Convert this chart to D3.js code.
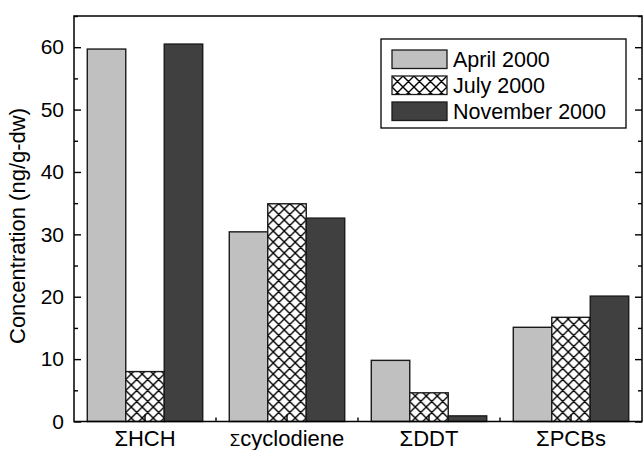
<!DOCTYPE html>
<html>
<head>
<meta charset="utf-8">
<script src="https://cdn.jsdelivr.net/npm/d3@7"></script>
<style>
  html, body { margin: 0; padding: 0; background: #fff; }
  svg { display: block; font-family: "Liberation Sans", Arial, sans-serif; }
</style>
</head>
<body>
<svg id="chart" width="644" height="450"></svg>
<script>
// Organochlorine concentrations by compound group and sampling date
const categories = ["ΣHCH", "Σcyclodiene", "ΣDDT", "ΣPCBs"];
const seriesNames = ["April 2000", "July 2000", "November 2000"];
const april2000 = [59.7, 30.4, 9.8, 15.1];
const july2000 = [8.0, 34.9, 4.6, 16.7];
const november2000 = [60.5, 32.6, 0.9, 20.1];
const yTicks = [0, 10, 20, 30, 40, 50, 60];
const yLabel = "Concentration (ng/g-dw)";

const seriesValues = [april2000, july2000, november2000];

const svg = d3.select("#chart");
const margin = { left: 74, right: 2, top: 16, bottom: 28.5 };
const W = 644, H = 450;
const x0 = margin.left, x1 = W - margin.right;
const yTop = margin.top, yBot = H - margin.bottom;

const x = d3.scaleBand().domain(categories).range([x0, x1]).paddingInner(0.187).paddingOuter(0.0935);
const xs = d3.scaleBand().domain(seriesNames).range([0, x.bandwidth()]);
const y = d3.scaleLinear().domain([0, 65]).range([yBot, yTop]);

// Cross-hatch pattern for the July series
const defs = svg.append("defs");
const pat = defs.append("pattern")
  .attr("id", "xhatch")
  .attr("patternUnits", "userSpaceOnUse")
  .attr("width", 11).attr("height", 11)
  .attr("x", 0).attr("y", 0);
pat.append("rect").attr("width", 11).attr("height", 11).attr("fill", "#fff");
pat.append("path").attr("d", "M0,0L11,11M11,0L0,11M-1,10L1,12M10,-1L12,1M-1,1L1,-1M10,12L12,10")
  .attr("stroke", "#000").attr("stroke-width", 1.4).attr("fill", "none");

const fills = ["#c0c0c0", "url(#xhatch)", "#404040"];

// Bars
const groups = svg.append("g").selectAll("g")
  .data(categories)
  .join("g")
  .attr("transform", d => `translate(${x(d)},0)`);

groups.selectAll("rect")
  .data((c, i) => seriesNames.map((s, k) => ({ s, k, v: seriesValues[k][i] })))
  .join("rect")
  .attr("x", d => xs(d.s))
  .attr("width", xs.bandwidth())
  .attr("y", d => y(d.v))
  .attr("height", d => y(0) - y(d.v))
  .attr("fill", d => fills[d.k])
  .attr("stroke", "#1a1a1a")
  .attr("stroke-width", 1.4);

// Frame
svg.append("rect")
  .attr("x", x0).attr("y", yTop)
  .attr("width", x1 - x0).attr("height", yBot - yTop)
  .attr("fill", "none").attr("stroke", "#000").attr("stroke-width", 1.5);

// Y axes (ticks inward on both sides)
const yMinor = d3.range(5, 66, 10);
const leftAxis = svg.append("g").attr("transform", `translate(${x0},0)`)
  .call(d3.axisLeft(y).tickValues(yTicks).tickSize(-7).tickPadding(10).tickFormat(d3.format("d")));
leftAxis.select(".domain").remove();
leftAxis.selectAll("line").attr("stroke", "#000").attr("stroke-width", 1.4);
leftAxis.selectAll("text").attr("font-size", 21).attr("fill", "#000")
  .attr("font-family", "Liberation Sans, Arial, sans-serif");

const leftMinor = svg.append("g").attr("transform", `translate(${x0},0)`)
  .call(d3.axisLeft(y).tickValues(yMinor).tickSize(-4).tickFormat(""));
leftMinor.select(".domain").remove();
leftMinor.selectAll("line").attr("stroke", "#000").attr("stroke-width", 1.4);

const rightAxis = svg.append("g").attr("transform", `translate(${x1},0)`)
  .call(d3.axisRight(y).tickValues(yTicks).tickSize(-7).tickFormat(""));
rightAxis.select(".domain").remove();
rightAxis.selectAll("line").attr("stroke", "#000").attr("stroke-width", 1.4);
const rightMinor = svg.append("g").attr("transform", `translate(${x1},0)`)
  .call(d3.axisRight(y).tickValues(yMinor).tickSize(-4).tickFormat(""));
rightMinor.select(".domain").remove();
rightMinor.selectAll("line").attr("stroke", "#000").attr("stroke-width", 1.4);

// X axis: major ticks at categories, minor at band boundaries
const xAxis = svg.append("g").attr("transform", `translate(0,${yBot})`)
  .call(d3.axisBottom(x).tickSize(-7).tickPadding(9));
xAxis.select(".domain").remove();
xAxis.selectAll("line").attr("stroke", "#000").attr("stroke-width", 1.4);
xAxis.selectAll("text")
  .attr("font-size", 22).attr("fill", "#000")
  .attr("font-family", "Liberation Sans, Arial, sans-serif")
  .each(function (d) {
    // the Σ before a lowercase name is set smaller, at x-height
    const t = d3.select(this);
    if (/^Σ[a-z]/.test(d)) {
      t.text(null);
      t.append("tspan").attr("font-size", 17).text("Σ");
      t.append("tspan").text(d.slice(1));
    }
  });

const bounds = categories.slice(1).map(c => x(c) - x.step() * x.paddingInner() / 2);
svg.append("g").selectAll("line").data(bounds).join("line")
  .attr("x1", d => d).attr("x2", d => d)
  .attr("y1", yBot).attr("y2", yBot - 4)
  .attr("stroke", "#000").attr("stroke-width", 1.4);

// Y label
svg.append("text")
  .attr("transform", `translate(25,226) rotate(-90)`)
  .attr("text-anchor", "middle")
  .attr("font-size", 22)
  .attr("fill", "#000")
  .text(yLabel);

// Legend
const leg = svg.append("g").attr("transform", "translate(381,39)");
leg.append("rect").attr("width", 245).attr("height", 89)
  .attr("fill", "#fff").attr("stroke", "#000").attr("stroke-width", 1.3);
const items = leg.selectAll("g.item").data(seriesNames).join("g")
  .attr("class", "item")
  .attr("transform", (d, i) => `translate(11,${11 + i * 26})`);
items.append("rect").attr("width", 55).attr("height", 18.5)
  .attr("fill", (d, i) => fills[i]).attr("stroke", "#1a1a1a").attr("stroke-width", 1.3);
items.append("text").attr("x", 61).attr("y", 17)
  .attr("font-size", 21.5).attr("fill", "#000").text(d => d);
</script>
</body>
</html>
